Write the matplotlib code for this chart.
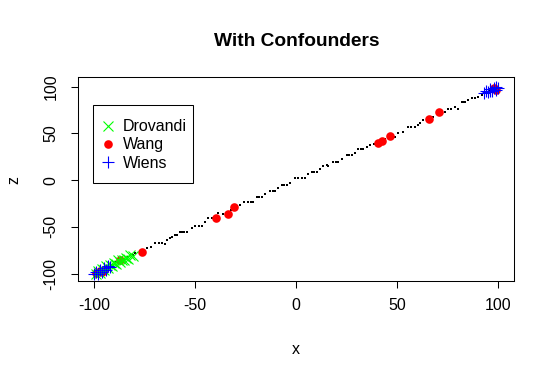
import matplotlib
matplotlib.use("Agg")
import matplotlib.pyplot as plt
from matplotlib.lines import Line2D
from matplotlib.patches import Rectangle

plt.rcParams['font.family'] = ['Liberation Sans', 'DejaVu Sans']

# Black "." points (the full simulated line)
line_x = [-99, -97, -95, -93, -91, -89, -87, -85, -83, -81,
          -79.7, -74, -71.8, -69.8, -68, -66.5, -64.9, -64, -62.4, -61.5,
          -59.9, -59, -57.4, -56.6, -55.3, -54.1, -51.6, -50, -48.3, -46.7,
          -45, -43.4, -41.5, -38.5, -36, -32, -27.7, -25.7, -23.8, -22.5,
          -21.3, -19.5, -18.2, -17, -15.3, -12.9, -11.6, -10.4, -8.7, -7.1,
          -5.8, -4.6, -3, -0.5, 1.2, 2.9, 4.5, 6.1, 7.8, 9,
          10.3, 11.9, 13.5, 15.2, 16, 18.5, 19.7, 21, 22.6, 25.1,
          26.3, 27.6, 29.2, 30.9, 32.1, 33.4, 35, 36.6, 38.5, 44,
          49, 50.6, 53.1, 55.4, 57.2, 58.9, 60.6, 61.4, 63, 68,
          73.8, 75.2, 77, 78.7, 80.3, 82, 82.8, 83.7, 85.3, 87,
          88.6, 90.2, 91.9, 94, 96, 98, 100]
line_z = [-99, -97, -95, -93, -91, -88, -87, -84, -82, -80,
          -77.8, -73, -71.4, -67, -67, -67, -68, -64, -62.4, -60.7,
          -58.9, -58.9, -55.3, -55.3, -55.3, -55.3, -51.7, -49.3, -49.3, -49.3,
          -44.6, -41, -40, -35.7, -36, -32, -26.8, -23.2, -23.2, -23.2,
          -23.2, -17.8, -17.8, -17.8, -15.3, -11.4, -11.4, -11.4, -8.9, -5.4,
          -5.4, -5.4, -2.5, 1.8, 1.8, 1.8, 1.8, 6.4, 8.9, 8.9,
          8.9, 11.8, 15.3, 16.1, 15.3, 19.6, 19.6, 19.6, 23.2, 26.8,
          26.8, 26.8, 29.3, 32.9, 32.9, 32.9, 35, 37.5, 38.5, 44,
          46.4, 50, 51.7, 57, 57, 57, 58.9, 60.7, 64.2, 68,
          73.1, 76, 76, 78.5, 76, 83.2, 83.2, 83.2, 85.7, 87.5,
          87.5, 89.2, 91, 94, 96, 98, 100]

# Drovandi design points
drovandi_x = [-99, -98, -97, -96, -95, -94, -93, -92, -91, -90,
              -89, -88, -87, -86, -85, -84, -83, -82, -81]
drovandi_z = [-100, -97, -99, -95, -96, -92, -94, -91, -92, -89,
              -90, -86, -88, -85, -86, -83, -84, -80, -81]

# Wang design points
wang_x = [-99, -97, -96, -95, -87, -76.5, -39.6, -33.7, -30.7,
          40.6, 42.6, 46.5, 65.8, 70.8, 98, 99]
wang_z = [-99, -97, -98, -96, -85, -77, -40, -36, -29,
          40, 42, 47, 65, 73, 99, 97]

# Wiens design points
wiens_x = [-100, -99, -98, -97, -96, -95, -94, -93, -92,
           93, 94, 95, 96, 96, 97, 98, 99, 99, 100]
wiens_z = [-100, -98, -100, -96, -98, -94, -96, -92, -93,
           93, 95, 94, 96, 98, 95, 99, 97, 100, 99]

x_ticks = [-100, -50, 0, 50, 100]
z_ticks = [-100, -50, 0, 50, 100]
legend_labels = ["Drovandi", "Wang", "Wiens"]

GREEN, RED, BLUE = '#00FF00', '#FF0000', '#0000FF'

fig = plt.figure(figsize=(5.57, 3.79), dpi=100)
ax = fig.add_axes([78/557, 1-281/379, 436/557, 204/379])

ax.plot(line_x, line_z, linestyle='none', marker='s', markersize=1.9,
        color='black', markeredgewidth=0)
ax.plot(wang_x, wang_z, linestyle='none', marker='o', markersize=6.2,
        color=RED, markeredgewidth=0, zorder=3)
ax.plot(drovandi_x, drovandi_z, linestyle='none', marker='x', markersize=7.5,
        color=GREEN, markeredgewidth=0.8, zorder=3)
ax.plot(wiens_x, wiens_z, linestyle='none', marker='+', markersize=9,
        color=BLUE, markeredgewidth=0.8, zorder=3)

ax.set_xlim(-108, 108)
ax.set_ylim(-108, 110.5)
ax.set_xticks(x_ticks)
ax.set_yticks(z_ticks)
ax.set_xticklabels([str(t) for t in x_ticks], fontsize=11.5)
ax.set_yticklabels([str(t) for t in z_ticks], fontsize=11.5, rotation=90, va='center')
ax.tick_params(axis='x', direction='out', length=5, width=0.75, pad=7)
ax.tick_params(axis='y', direction='out', length=5, width=0.75, pad=9)
for s in ax.spines.values():
    s.set_linewidth(0.75)

fig.text(297/557, 1-42/379, "With Confounders", ha='center', va='center',
         fontsize=13.8, fontweight='bold')
fig.text(296/557, 1-350/379, "x", ha='center', va='center', fontsize=11.5)
fig.text(14/557, 1-180/379, "z", ha='center', va='center', fontsize=11.5, rotation=90)

# Legend box (R-style), drawn inside the axes below the legend entries
box = Rectangle((93/557, 1-183/379), 100/557, 78/379,
                transform=fig.transFigure, fill=True, facecolor='white',
                edgecolor='black', linewidth=0.75, zorder=4)
ax.add_patch(box)
box.set_transform(fig.transFigure)
box.set_clip_on(False)

handles = [
    Line2D([], [], linestyle='none', marker='x', color=GREEN, markersize=7, markeredgewidth=0.8),
    Line2D([], [], linestyle='none', marker='o', color=RED, markersize=6.2, markeredgewidth=0),
    Line2D([], [], linestyle='none', marker='+', color=BLUE, markersize=9, markeredgewidth=0.8),
]
leg = ax.legend(handles, legend_labels, loc='center left',
                bbox_to_anchor=((101.6-78)/436, (281-145)/204),
                fontsize=11.5, frameon=False, borderpad=0,
                handlelength=0.8, handletextpad=0.54,
                labelspacing=0.19, borderaxespad=0)
leg.set_zorder(5)

fig.savefig("out.png", dpi=100)
